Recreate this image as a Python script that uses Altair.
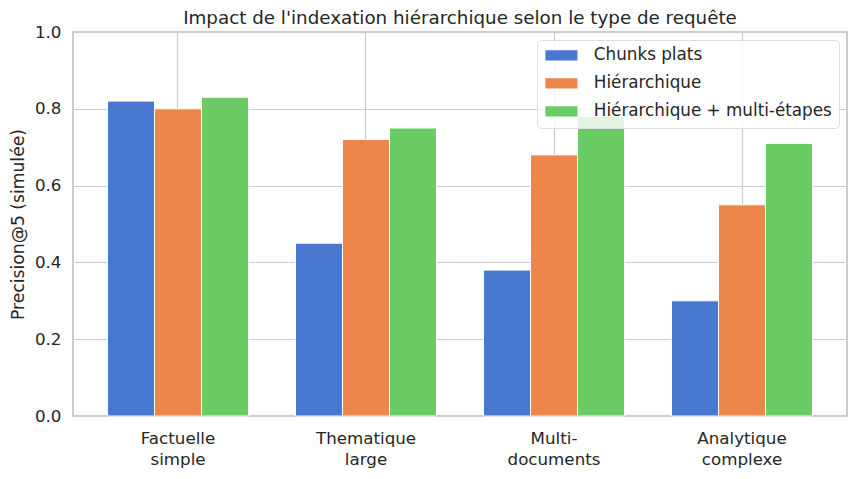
import altair as alt
import pandas as pd

categories = ["Factuelle\nsimple", "Thematique\nlarge", "Multi-\ndocuments", "Analytique\ncomplexe"]
series = ["Chunks plats", "Hiérarchique", "Hiérarchique + multi-étapes"]
flat = [0.82, 0.45, 0.38, 0.30]
hier = [0.80, 0.72, 0.68, 0.55]
multi = [0.83, 0.75, 0.78, 0.71]
colors = ["#4878d0", "#ee854a", "#6acc64"]

rows = []
for s, vals in zip(series, [flat, hier, multi]):
    for c, v in zip(categories, vals):
        rows.append({"cat": c, "serie": s, "val": v})
df = pd.DataFrame(rows)

FONT = "DejaVu Sans"
TXT = "#262626"

chart = alt.Chart(df).mark_bar(stroke="white", strokeWidth=1).encode(
    x=alt.X("cat:N", sort=categories, title=None,
            scale=alt.Scale(paddingInner=0, paddingOuter=0.0585),
            axis=alt.Axis(labelExpr="split(datum.label, '\\n')", labelAngle=0,
                          labelFontSize=16.7, labelColor=TXT, labelFont=FONT,
                          labelLineHeight=21, labelPadding=14, labelBaseline="top",
                          domain=False, ticks=False, grid=True, bandPosition=0.5,
                          gridColor="#cccccc", gridWidth=1.2)),
    xOffset=alt.XOffset("serie:N", sort=series,
                        scale=alt.Scale(paddingInner=0, paddingOuter=0.5)),
    y=alt.Y("val:Q", title="Precision@5 (simulée)",
            scale=alt.Scale(domain=[0, 1], nice=False),
            axis=alt.Axis(values=[0, 0.2, 0.4, 0.6, 0.8, 1.0], format=".1f",
                          labelFontSize=16.7, labelColor=TXT, labelFont=FONT,
                          labelPadding=12, titleFontSize=17.2, titleFont=FONT,
                          titleColor=TXT, titleFontWeight="normal", titlePadding=7,
                          domain=False, ticks=False, grid=True,
                          gridColor="#cccccc", gridWidth=1.2)),
    color=alt.Color("serie:N", sort=series,
                    scale=alt.Scale(domain=series, range=colors),
                    legend=alt.Legend(title=None, orient="top-right", offset=8,
                                      symbolType="M-2.29,-0.72L2.29,-0.72L2.29,0.72L-2.29,0.72Z",
                                      symbolSize=196, symbolStrokeWidth=0,
                                      symbolOffset=9,
                                      labelFontSize=16.8, labelFont=FONT, labelColor=TXT,
                                      labelLimit=400,
                                      labelOffset=24, rowPadding=10, padding=7,
                                      fillColor="rgba(255,255,255,0.8)",
                                      strokeColor="#dddddd", cornerRadius=4)),
).properties(
    width=774, height=384,
    title=alt.TitleParams("Impact de l'indexation hiérarchique selon le type de requête",
                          font=FONT, fontSize=18.3, fontWeight="normal",
                          color=TXT, offset=-4),
    autosize=alt.AutoSizeParams(type="none"),
    padding={"left": 65, "top": 24, "right": 3, "bottom": 55},
).configure_view(stroke="#cccccc", strokeWidth=2)

chart.save("out.html", embed_options={"renderer": "svg", "actions": False})
